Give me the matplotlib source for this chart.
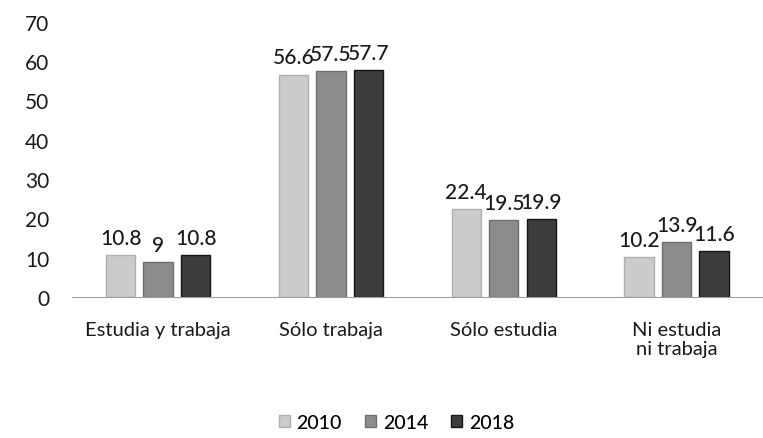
import numpy as np
import matplotlib.pyplot as plt

plt.rcParams['font.family'] = ['Lato', 'DejaVu Sans']

categorias = ['Estudia y trabaja', 'Sólo trabaja', 'Sólo estudia', 'Ni estudia\nni trabaja']
anios = ['2010', '2014', '2018']
v2010 = [10.8, 56.6, 22.4, 10.2]
v2014 = [9, 57.5, 19.5, 13.9]
v2018 = [10.8, 57.7, 19.9, 11.6]

series = [v2010, v2014, v2018]
colores = ['#cbcbcb', '#8c8c8c', '#3c3c3c']
bordes = ['#b0b0b0', '#6e6e6e', '#151515']

fig = plt.figure(figsize=(7.63, 4.39), dpi=100)
ax = fig.add_axes([0.094, 0.321, 0.906, 0.627])

x = np.arange(len(categorias))
ancho = 0.17
paso = 0.217
for i, (vals, c, b) in enumerate(zip(series, colores, bordes)):
    pos = x + (i - 1) * paso
    ax.bar(pos, vals, width=ancho, color=c, edgecolor=b, linewidth=1.0,
           label=anios[i])
    for p, v in zip(pos, vals):
        ax.text(p, v + 1.8, f'{v:g}', ha='center', va='bottom', fontsize=15,
                fontweight='medium', color='#1a1a1a')

ax.set_xlim(-0.5, len(categorias) - 0.5)
ax.set_ylim(0, 70)
ax.set_yticks(range(0, 71, 10))
ax.set_xticks(x)
ax.set_xticklabels(categorias, fontsize=14.5, color='#1a1a1a', linespacing=1.15)
ax.tick_params(axis='y', labelsize=15, labelcolor='#1a1a1a', length=0, pad=16)
ax.tick_params(axis='x', length=0, pad=17)
for s in ['top', 'right', 'left']:
    ax.spines[s].set_visible(False)
ax.spines['bottom'].set_color('#a0a0a0')

ax.legend(loc='center', bbox_to_anchor=(0.47, -0.455), ncol=3, frameon=False,
          prop={'size': 14, 'weight': 'medium'}, handlelength=0.55,
          handleheight=0.55, handletextpad=0.35, columnspacing=1.2)

plt.savefig('out.png', dpi=100)
